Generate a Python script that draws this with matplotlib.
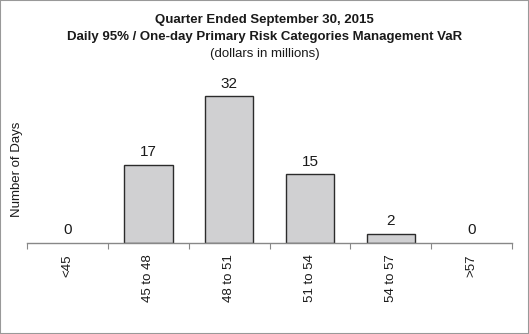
import matplotlib
matplotlib.use("Agg")
import matplotlib.pyplot as plt
from matplotlib.patches import Rectangle

categories = ["<45", "45 to 48", "48 to 51", "51 to 54", "54 to 57", ">57"]
days = [0, 17, 32, 15, 2, 0]

plt.rcParams["font.family"] = ["Liberation Sans", "DejaVu Sans"]

fig = plt.figure(figsize=(5.29, 3.34), dpi=100)
ax = fig.add_axes([0.051, 0.2725, 0.917, 0.55])

x = list(range(len(categories)))
edges = ["#2b2b2b" if v > 0 else "none" for v in days]
ax.bar(x, days, width=0.6, color="#d0d0d2", edgecolor=edges, linewidth=1.0, zorder=2)
for xi, v in zip(x, days):
    ax.text(xi, v + 1.2, str(v), ha="center", va="bottom", fontsize=11, color="#1a1a1a")

ax.set_xlim(-0.5, len(categories) - 0.5)
ax.set_ylim(0, 40)
ax.set_xticks([i - 0.5 for i in range(len(categories) + 1)])
ax.set_xticklabels([])
ax.set_xticks(x, minor=True)
ax.set_xticklabels(categories, minor=True, rotation=90, fontsize=9.5, color="#1a1a1a")
ax.tick_params(axis="x", which="major", length=4, color="#888888", direction="out")
ax.tick_params(axis="x", which="minor", length=0, pad=8)
ax.set_yticks([])
for s in ("top", "right", "left"):
    ax.spines[s].set_visible(False)
ax.spines["bottom"].set_color("#888888")
ax.spines["bottom"].set_linewidth(1.0)

ax.set_ylabel("Number of Days", fontsize=9.5, color="#1a1a1a")
ax.yaxis.set_label_coords(-0.009, 0.40)

fig.text(0.5, 0.941, "Quarter Ended September 30, 2015", ha="center", va="center",
         fontsize=9.5, fontweight="bold", color="#1a1a1a")
fig.text(0.5, 0.890, "Daily 95% / One-day Primary Risk Categories Management VaR", ha="center",
         va="center", fontsize=9.5, fontweight="bold", color="#1a1a1a")
fig.text(0.5, 0.839, "(dollars in millions)", ha="center", va="center",
         fontsize=9.5, color="#1a1a1a")

fig.add_artist(Rectangle((0, 0), 1, 1, transform=fig.transFigure, fill=False,
                         edgecolor="#999999", linewidth=1.5))

fig.savefig("out.png", dpi=100)
